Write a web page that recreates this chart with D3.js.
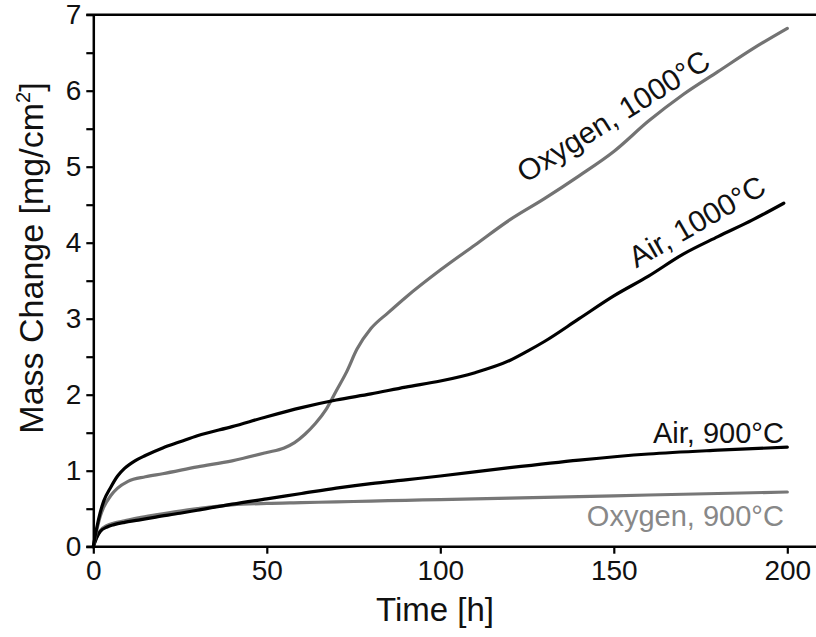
<!DOCTYPE html>
<html><head><meta charset="utf-8">
<script src="https://cdn.jsdelivr.net/npm/d3@7"></script>
<style>
html,body{margin:0;padding:0;background:#fff;}
svg{display:block;font-family:"Liberation Sans",Arial,Helvetica,sans-serif;}
</style></head>
<body><svg id="chart" width="816" height="637"></svg>
<script>
// ---- data ----
const airT1000 = [0,1,2,3,5,7,9,12,15,20,25,30,40,50,60,70,80,90,100,110,120,125,130,140,150,160,170,180,190,199];
const airV1000 = [0,0.25,0.45,0.6,0.78,0.93,1.03,1.13,1.2,1.3,1.38,1.46,1.58,1.71,1.83,1.93,2.01,2.1,2.18,2.29,2.45,2.57,2.7,3.0,3.3,3.56,3.85,4.08,4.3,4.52];

const oxyT1000 = [0,1,2,3,5,7,10,15,20,30,40,50,55,58,61,64,67,70,73,76,80,85,90,100,110,120,130,140,150,160,170,180,190,200];
const oxyV1000 = [0,0.22,0.4,0.52,0.67,0.77,0.86,0.92,0.96,1.05,1.13,1.24,1.3,1.37,1.48,1.62,1.8,2.05,2.3,2.6,2.87,3.08,3.28,3.64,3.97,4.3,4.58,4.88,5.2,5.6,5.95,6.25,6.55,6.82];

const airT900 = [0,1,2,4,6,9,13,18,25,30,40,50,60,70,80,90,100,120,140,160,180,200];
const airV900 = [0,0.12,0.2,0.26,0.29,0.32,0.35,0.39,0.44,0.48,0.56,0.63,0.7,0.77,0.83,0.88,0.93,1.04,1.14,1.22,1.27,1.31];

const oxyT900 = [0,1,2,4,6,9,13,18,25,30,40,50,60,70,80,90,100,120,140,160,180,200];
const oxyV900 = [0,0.13,0.21,0.28,0.31,0.34,0.38,0.42,0.47,0.5,0.55,0.57,0.58,0.59,0.6,0.61,0.62,0.64,0.66,0.68,0.7,0.72];

const xTicks = [0,50,100,150,200];
const yTicks = [0,0.5,1,1.5,2,2.5,3,3.5,4,4.5,5,5.5,6,6.5,7];
const yLabels = [0,1,2,3,4,5,6,7];

const seriesNames = ["Oxygen, 900°C","Air, 900°C","Oxygen, 1000°C","Air, 1000°C"];

// ---- layout ----
const W = 816, H = 637;
const svg = d3.select("#chart");
const x = d3.scaleLinear().domain([0,200]).range([93.3,787.3]);
const y = d3.scaleLinear().domain([0,7]).range([546.7,14.7]);

const series = [
  {name:seriesNames[0], t:oxyT900, v:oxyV900, color:"#777"},
  {name:seriesNames[1], t:airT900, v:airV900, color:"#000"},
  {name:seriesNames[2], t:oxyT1000, v:oxyV1000, color:"#737373"},
  {name:seriesNames[3], t:airT1000, v:airV1000, color:"#000"}
];

const line = d3.line().x(d=>x(d[0])).y(d=>y(d[1])).curve(d3.curveMonotoneX);
svg.append("g").selectAll("path").data(series).join("path")
  .attr("d", s => line(s.t.map((t,i)=>[t,s.v[i]])))
  .attr("fill","none").attr("stroke",s=>s.color).attr("stroke-width",3.2)
  .attr("stroke-linejoin","round").attr("stroke-linecap","round");

// ---- axes ----
const yAxis = d3.axisLeft(y).tickValues(yTicks).tickSize(7).tickSizeOuter(0)
  .tickFormat(d => yLabels.includes(d) ? d3.format("d")(d) : "");
const gy = svg.append("g").attr("transform",`translate(${x(0)},0)`).call(yAxis);
gy.select(".domain").attr("stroke","#000").attr("stroke-width",2.5);
gy.selectAll(".tick line").attr("stroke","#000").attr("stroke-width",2.2);
gy.selectAll(".tick text").attr("font-size",28).attr("fill","#111")
  .attr("x",-12).attr("font-family","Liberation Sans, Arial, sans-serif");

const xAxis = d3.axisBottom(x).tickValues(xTicks).tickSize(7).tickSizeOuter(0).tickFormat(d3.format("d"));
const gx = svg.append("g").attr("transform",`translate(0,${y(0)})`).call(xAxis);
gx.select(".domain").remove();
gx.selectAll(".tick line").attr("stroke","#000").attr("stroke-width",2.2);
gx.selectAll(".tick text").attr("font-size",28).attr("fill","#111")
  .attr("y",13).attr("font-family","Liberation Sans, Arial, sans-serif");

// bottom axis line and top frame line spanning to the right edge
svg.append("line").attr("x1",x(0)-7).attr("x2",W).attr("y1",y(0)).attr("y2",y(0))
  .attr("stroke","#000").attr("stroke-width",2.5);
svg.append("line").attr("x1",x(0)-7).attr("x2",W).attr("y1",y(7)).attr("y2",y(7))
  .attr("stroke","#000").attr("stroke-width",2.5);

// ---- titles ----
svg.append("text").attr("x",435).attr("y",621).attr("text-anchor","middle")
  .attr("font-size",33).attr("fill","#111").text("Time [h]");
const yt = svg.append("text").attr("transform","translate(43,258) rotate(-90)")
  .attr("text-anchor","middle").attr("font-size",34).attr("fill","#111");
yt.append("tspan").text("Mass Change [mg/cm");
yt.append("tspan").attr("font-size",20).attr("dy",-13).text("2");
yt.append("tspan").attr("dy",13).text("]");

// ---- series labels ----
svg.append("text").attr("x",x(199)).attr("y",y(1.36)).attr("text-anchor","end")
  .attr("font-size",29).attr("fill","#111").text(seriesNames[1]);
svg.append("text").attr("x",x(199)).attr("y",y(0.27)).attr("text-anchor","end")
  .attr("font-size",29).attr("fill","#888").text(seriesNames[0]);
svg.append("text").attr("transform",`translate(${x(124.5)},${y(4.78)}) rotate(-32)`)
  .attr("font-size",30).attr("fill","#111").text(seriesNames[2]);
svg.append("text").attr("transform",`translate(${x(156.5)},${y(3.66)}) rotate(-30)`)
  .attr("font-size",30).attr("fill","#111").text(seriesNames[3]);
</script></body></html>
